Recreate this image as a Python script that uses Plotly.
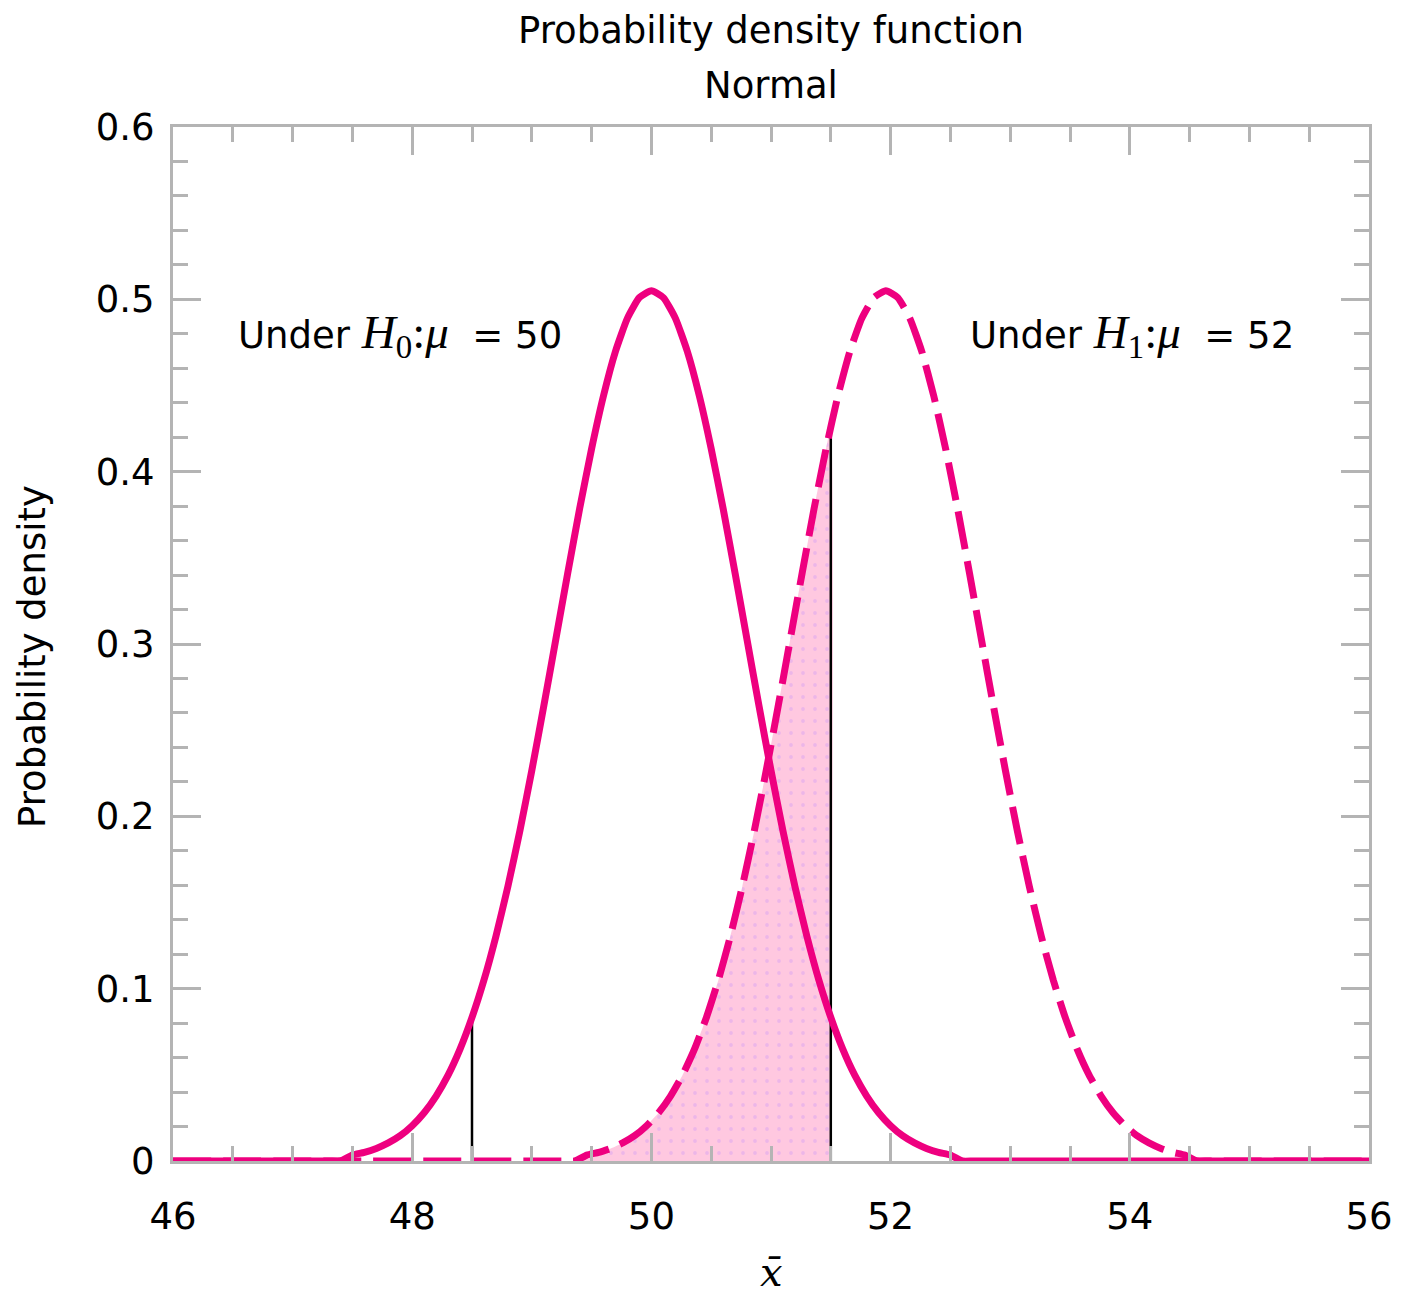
import plotly.graph_objects as go
import numpy as np

# ---- data ----
title_lines = ["Probability density function", "Normal"]
y_label = "Probability density"

mu0 = 50.0      # centre of solid curve (H0)
mu1 = 51.96     # centre of dashed curve (H1)
x_min, x_max = 46.0, 56.0

# offsets from the centre (step 0.1) and density values
offsets = [round(v, 1) for v in np.arange(-2.5, 2.51, 0.1)]
density = [0.0034, 0.0050, 0.0073, 0.0105, 0.0147, 0.0205, 0.0280, 0.0377, 0.0498, 0.0649,
           0.0833, 0.1050, 0.1304, 0.1593, 0.1915, 0.2266, 0.2639, 0.3024, 0.3410, 0.3785,
           0.4133, 0.4442, 0.4699, 0.4891, 0.5010, 0.5050, 0.5010, 0.4891, 0.4699, 0.4442,
           0.4133, 0.3785, 0.3410, 0.3024, 0.2639, 0.2266, 0.1915, 0.1593, 0.1304, 0.1050,
           0.0833, 0.0649, 0.0498, 0.0377, 0.0280, 0.0205, 0.0147, 0.0105, 0.0073, 0.0050,
           0.0034]

crit_x = [48.5, 51.5]
crit_h = [0.083, 0.425]

x_ticks = [46, 48, 50, 52, 54, 56]
x_ticktext = ["46", "48", "50", "52", "54", "56"]
y_ticks = [0, 0.1, 0.2, 0.3, 0.4, 0.5, 0.6]
y_ticktext = ["0", "0.1", "0.2", "0.3", "0.4", "0.5", "0.6"]

SERIF = "font-family:'Liberation Serif';font-size:47px"
label_h0 = (f"Under <span style=\"{SERIF}\"><i>H</i><sub>0</sub>:<i>\u03bc</i></span>"
            "\u00a0\u00a0= 50")
label_h1 = (f"Under <span style=\"{SERIF}\"><i>H</i><sub>1</sub>:<i>\u03bc</i></span>"
            "\u00a0\u00a0= 52")
label_pos = [(46.525, 0.479), (52.65, 0.479)]
x_label = "<i>x\u0304</i>"

# ---- build series ----
def curve(mu):
    xs = [mu + o for o in offsets]
    ys = list(density)
    # the curve sits on the zero line outside its drawn range
    return [x_min, xs[0] - 0.2, xs[0] - 0.1] + xs + [xs[-1] + 0.1, xs[-1] + 0.2, x_max], \
           [0.0, 0.0, 0.0] + ys + [0.0, 0.0, 0.0]

h0_x, h0_y = curve(mu0)
h1_x, h1_y = curve(mu1)

fill_x = [mu1 + o for o in offsets if mu1 + o <= crit_x[1]] + [crit_x[1]]
fill_y = [d for o, d in zip(offsets, density) if mu1 + o <= crit_x[1]] + [crit_h[1]]

PINK = "#ee007f"
GREY = "#b4b4b4"
FONT = "DejaVu Sans"

fig = go.Figure()
fig.add_trace(go.Scatter(
    x=[fill_x[0] - 0.1] + fill_x + [crit_x[1]], y=[0] + fill_y + [0], mode="lines",
    line=dict(width=0, shape="spline", smoothing=0.5),
    fill="tozeroy", fillcolor="#ffc8e0",
    fillpattern=dict(shape=".", fgcolor="#d9a3f0", bgcolor="#ffc8e0", size=12, solidity=0.08),
    hoverinfo="skip", showlegend=False))
for cx, ch in zip(crit_x, crit_h):
    fig.add_trace(go.Scatter(x=[cx, cx], y=[0, ch], mode="lines",
                             line=dict(color="black", width=2.5), showlegend=False))
fig.add_trace(go.Scatter(x=h1_x, y=h1_y, mode="lines",
                         line=dict(color=PINK, width=7, dash="38px,12px", shape="spline", smoothing=0.5),
                         showlegend=False))
fig.add_trace(go.Scatter(x=h0_x, y=h0_y, mode="lines",
                         line=dict(color=PINK, width=7, shape="spline", smoothing=0.5),
                         showlegend=False))

axis_common = dict(
    showline=True, linecolor=GREY, linewidth=3, mirror="ticks",
    ticks="inside", tickcolor=GREY, tickwidth=3, ticklen=28,
    showgrid=False, zeroline=False,
    tickfont=dict(family=FONT, size=37, color="black"),
)

fig.update_xaxes(range=[x_min, x_max], tickvals=x_ticks, ticktext=x_ticktext,
                 minor=dict(dtick=0.5, ticks="inside", ticklen=15, tickcolor=GREY, tickwidth=3),
                 ticklabelstandoff=21, **axis_common)
fig.update_yaxes(range=[0, 0.6], tickvals=y_ticks, ticktext=y_ticktext,
                 minor=dict(dtick=0.02, ticks="inside", ticklen=15, tickcolor=GREY, tickwidth=3),
                 ticklabelstandoff=8, **axis_common)

annotations = [
    dict(text=title_lines[0], xref="paper", yref="paper", x=0.5, y=1.0938,
         xanchor="center", yanchor="middle", showarrow=False,
         font=dict(family=FONT, size=37, color="black")),
    dict(text=title_lines[1], xref="paper", yref="paper", x=0.5, y=1.0406,
         xanchor="center", yanchor="middle", showarrow=False,
         font=dict(family=FONT, size=37, color="black")),
    dict(text=y_label, xref="paper", yref="paper", x=-0.1174, y=0.488, textangle=-90,
         xanchor="center", yanchor="middle", showarrow=False,
         font=dict(family=FONT, size=37, color="black")),
    dict(text=x_label, xref="paper", yref="paper", x=0.5, y=-0.107,
         xanchor="center", yanchor="middle", showarrow=False,
         font=dict(family="DejaVu Serif", size=40, color="black")),
]
for txt, (ax, ay) in zip([label_h0, label_h1], label_pos):
    annotations.append(dict(text=txt, x=ax, y=ay, xref="x", yref="y",
                            xanchor="left", yanchor="middle", showarrow=False,
                            font=dict(family=FONT, size=37, color="black")))

# page has an 8px body margin, so the figure is sized to fit the window
fig.update_layout(
    width=1397, height=1285,
    margin=dict(l=165, r=31, t=119, b=132),
    paper_bgcolor="white", plot_bgcolor="white",
    annotations=annotations, showlegend=False,
)

fig.write_html("out.html")
